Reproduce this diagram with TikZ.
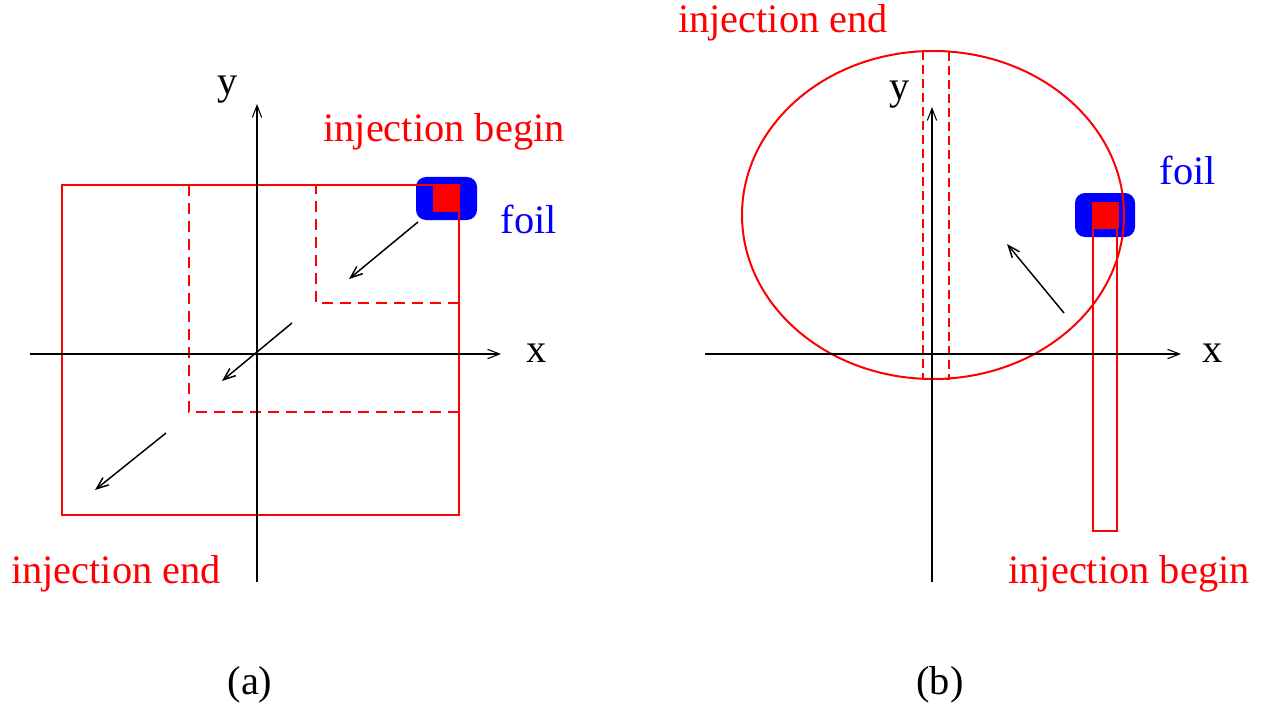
\documentclass[tikz,border=0pt]{standalone}
\usepackage{fontspec}
\setmainfont{Liberation Serif}
\usetikzlibrary{arrows.meta}
\tikzset{
  lbl/.style={anchor=base, inner sep=0pt, font=\fontsize{30.3}{36}\selectfont},
  redlbl/.style={lbl, text=red},
  bluelbl/.style={lbl, text=blue},
  axis/.style={draw=black, line width=0.8pt, -{Straight Barb[length=9pt,width=7pt]}},
  move/.style={draw=black, line width=1.1pt, -{Straight Barb[length=9pt,width=7pt]}},
  redsolid/.style={draw=red, line width=1.5pt},
  reddash/.style={draw=red, line width=1.7pt, dash pattern=on 8.5pt off 5pt},
  reddashb/.style={draw=red, line width=1.7pt, dash pattern=on 7pt off 3.5pt},
  foilbox/.style={fill=blue, rounded corners=7.5pt},
  foilcore/.style={fill=red}
}
\begin{document}
\begin{tikzpicture}[x=0.75pt,y=-0.75pt]
\useasboundingbox (0,0) rectangle (1263,706);
% ---------------- panel (a) ----------------
\fill[foilbox] (416,177) rectangle (477,220);
\fill[foilcore] (433,185) rectangle (459,212);
\draw[redsolid] (62,185) rectangle (459,515);
\draw[reddash] (459,412) -- (189,412) -- (189,185);
\draw[reddash] (459,303) -- (316,303) -- (316,185);
\coordinate (ax0) at (30,354);
\coordinate (ax1) at (501,354);
\coordinate (ay0) at (257,582);
\coordinate (ay1) at (257,104);
\draw[axis] (ax0) -- (ax1);
\draw[axis] (ay0) -- (ay1);
\node[lbl] (xa) at (537,362) {x};
\node[lbl] (ya) at (228,95) {y};
\coordinate (a1s) at (418,222);
\coordinate (a1e) at (349,279);
\coordinate (a2s) at (292,323);
\coordinate (a2e) at (222,381);
\coordinate (a3s) at (166,433);
\coordinate (a3e) at (95,490);
\draw[move] (a1s) -- (a1e);
\draw[move] (a2s) -- (a2e);
\draw[move] (a3s) -- (a3e);
\node[redlbl] (begina) at (444,142) {injection begin};
\node[bluelbl] (foila) at (529,233) {foil};
\node[redlbl] (enda) at (116,583) {injection end};
\node[lbl] (capa) at (250,694) {(a)};
% ---------------- panel (b) ----------------
\fill[foilbox] (1075,193) rectangle (1135,237);
\fill[foilcore] (1092,202) rectangle (1119,228);
\draw[redsolid] (933,215) ellipse [x radius=191, y radius=164];
\draw[reddashb] (923,51) rectangle (949,379);
\draw[redsolid] (1093,228) rectangle (1117,531);
\coordinate (bx0) at (705,354);
\coordinate (bx1) at (1181,354);
\coordinate (by0) at (932,582);
\coordinate (by1) at (932,107);
\draw[axis] (bx0) -- (bx1);
\draw[axis] (by0) -- (by1);
\node[lbl] (xb) at (1213,362) {x};
\node[lbl] (yb) at (900,100) {y};
\coordinate (b1s) at (1064,313);
\coordinate (b1e) at (1007,244);
\draw[move] (b1s) -- (b1e);
\node[redlbl] (endb) at (783,33) {injection end};
\node[bluelbl] (foilb) at (1188,185) {foil};
\node[redlbl] (beginb) at (1129,583) {injection begin};
\node[lbl] (capb) at (940,694) {(b)};
\end{tikzpicture}
\end{document}
